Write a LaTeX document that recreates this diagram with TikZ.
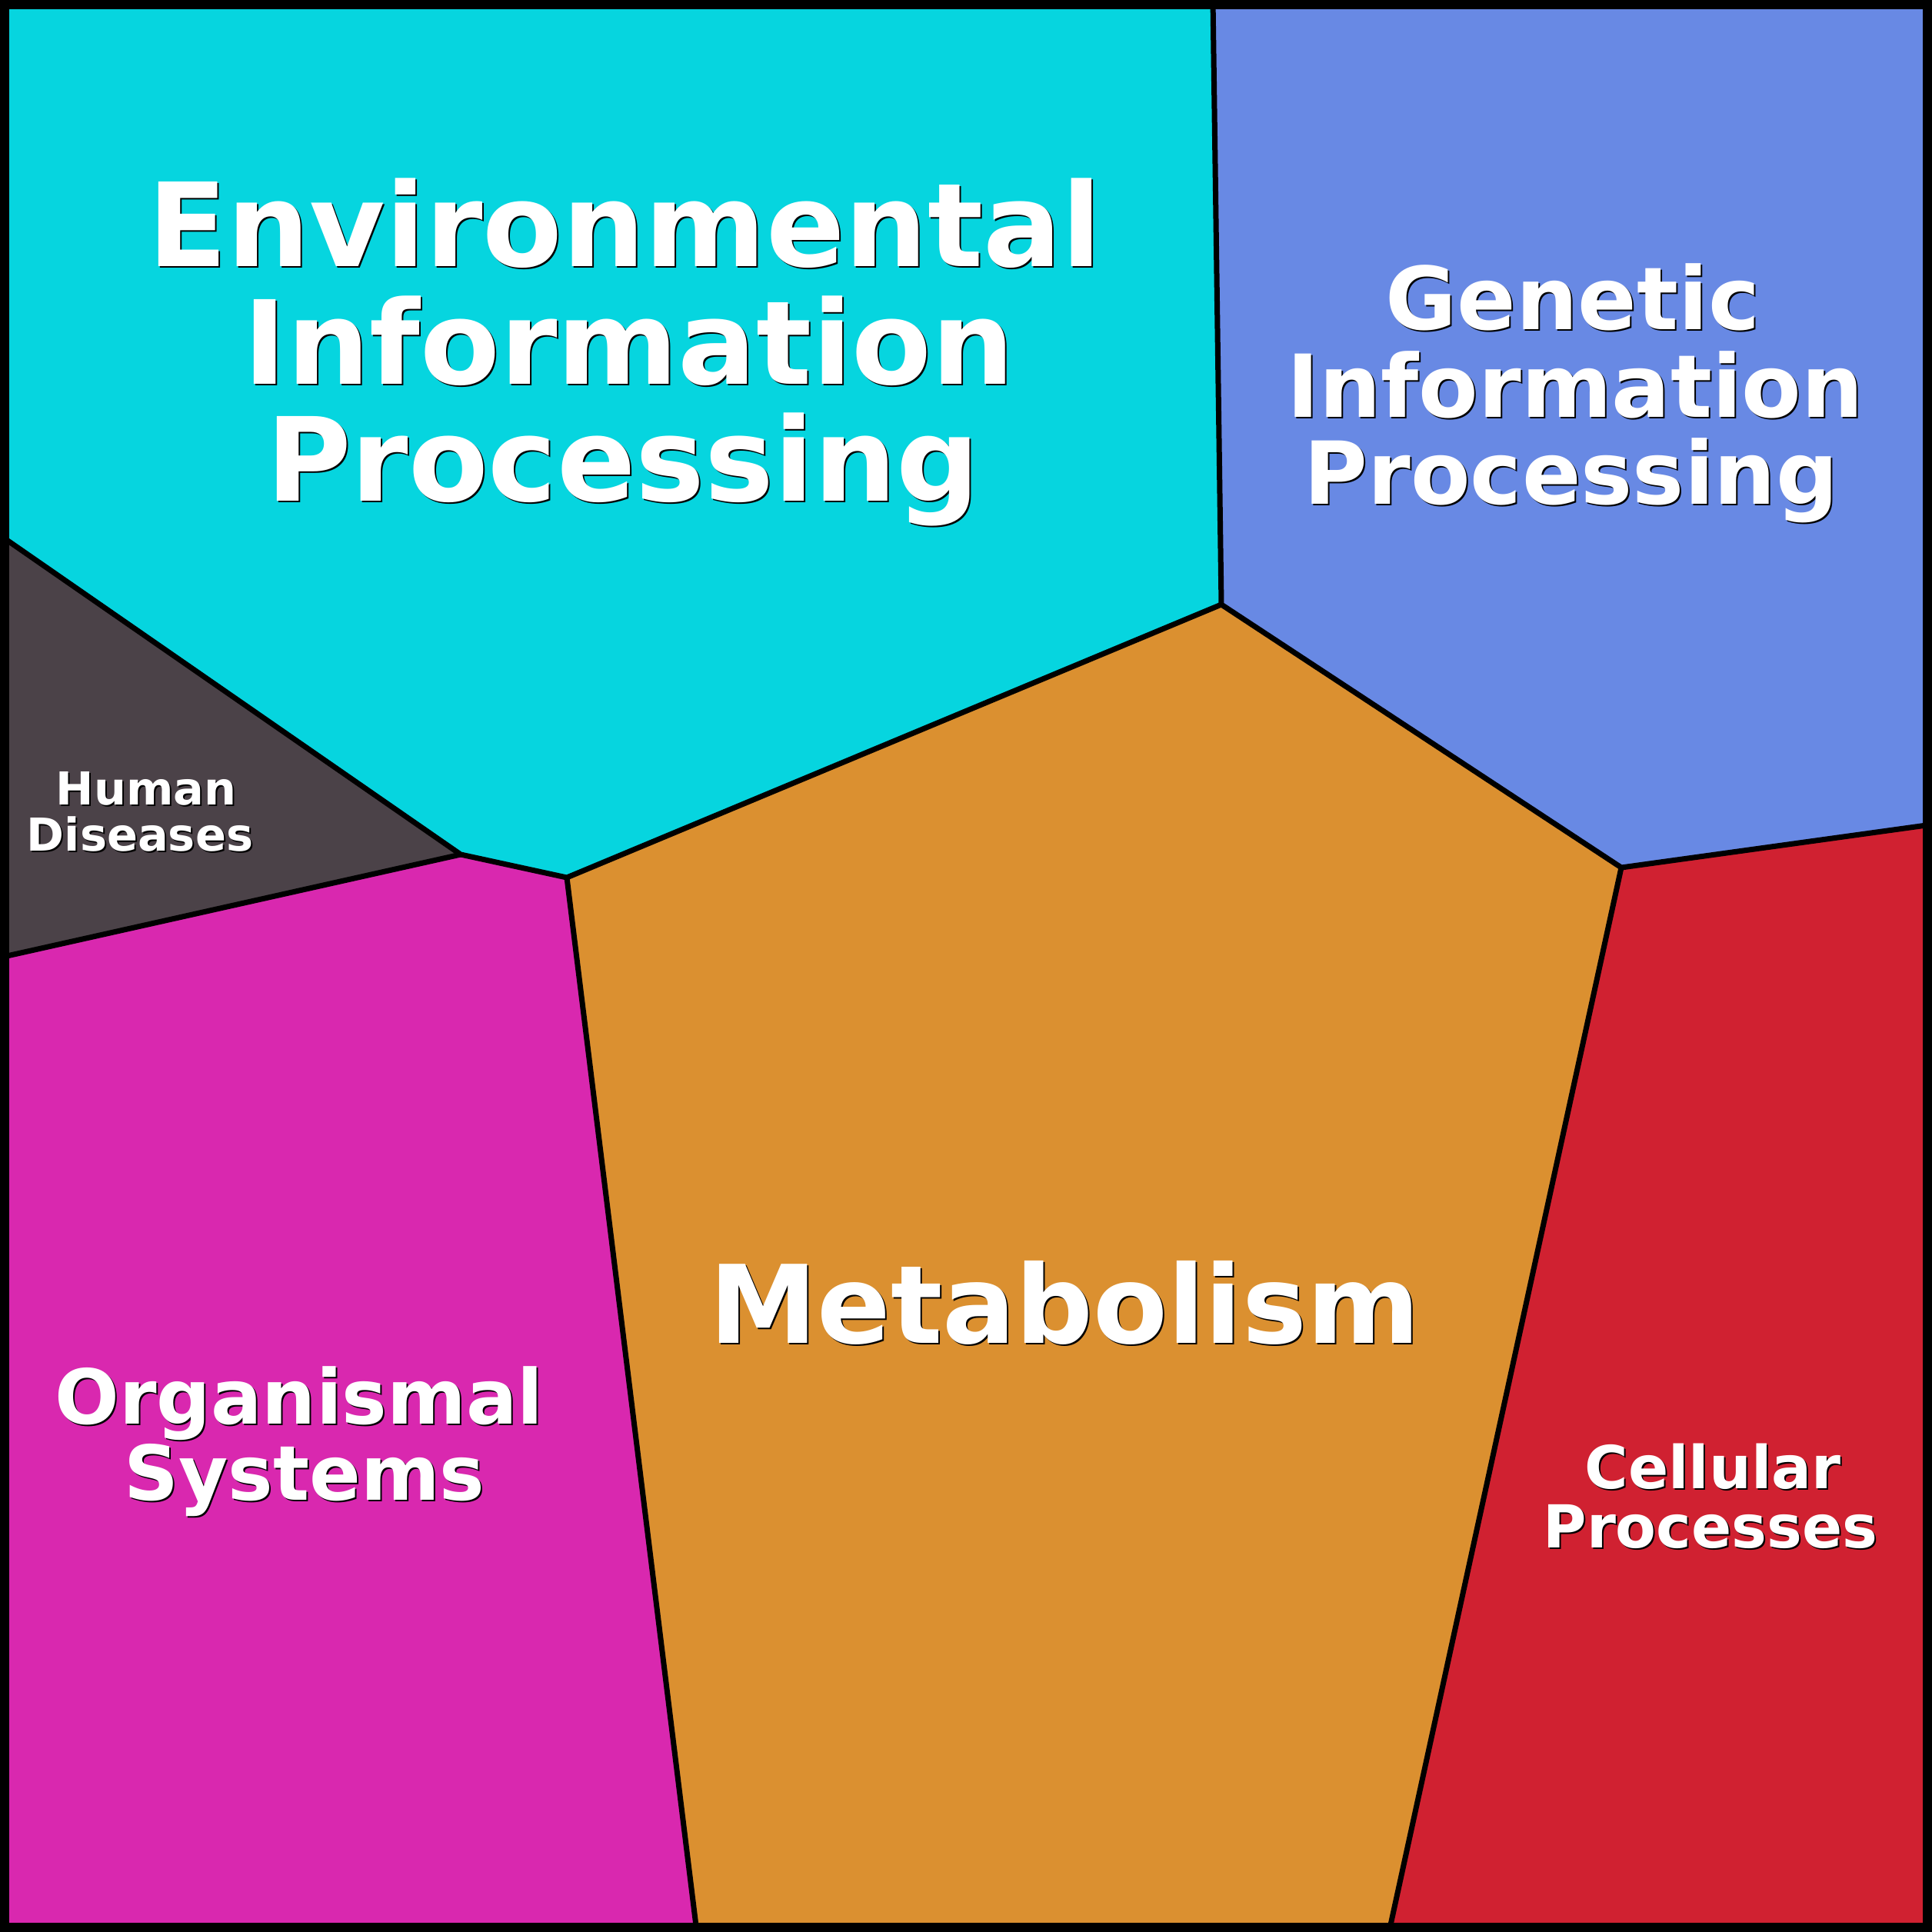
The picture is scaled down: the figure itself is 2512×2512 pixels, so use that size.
\documentclass[tikz,border=0pt]{standalone}
\usepackage{fontspec}
\setmainfont{DejaVu Sans}
\definecolor{envc}{HTML}{06D5DF}
\definecolor{genc}{HTML}{6889E4}
\definecolor{metc}{HTML}{DB9030}
\definecolor{celc}{HTML}{D02131}
\definecolor{orgc}{HTML}{D928AF}
\definecolor{humc}{HTML}{4B4248}
\tikzset{
  region/.style={draw=black, line width=7bp, line join=round},
  txtshadow/.style={anchor=base, inner sep=0pt, text=black},
  txtmain/.style={anchor=base, inner sep=0pt, text=white},
}
\newcommand\shlabel[5]{%
  \node[txtshadow, font=\fontsize{#4bp}{#4bp}\selectfont\bfseries] (#1s) at (#2+2,#3+2) {#5};
  \node[txtmain, font=\fontsize{#4bp}{#4bp}\selectfont\bfseries] (#1) at (#2,#3) {#5};
}
\begin{document}
\begin{tikzpicture}[x=1bp,y=-1bp]
\useasboundingbox (0,0) rectangle (2512,2512);
\coordinate (T) at (1577,0);
\coordinate (A) at (1588,786);
\coordinate (B) at (2108,1128);
\coordinate (R) at (2512,1072);
\coordinate (C) at (1806,2512);
\coordinate (D) at (906,2512);
\coordinate (E) at (737,1141);
\coordinate (H) at (599,1111);
\coordinate (L1) at (0,696);
\coordinate (L2) at (0,1245);
\fill[envc] (0,0) -- (T) -- (A) -- (E) -- (H) -- (L1) -- cycle;
\fill[genc] (T) -- (2512,0) -- (R) -- (B) -- (A) -- cycle;
\fill[metc] (A) -- (B) -- (C) -- (D) -- (E) -- cycle;
\fill[celc] (B) -- (R) -- (2512,2512) -- (C) -- cycle;
\fill[orgc] (E) -- (D) -- (0,2512) -- (L2) -- (H) -- cycle;
\fill[humc] (L1) -- (H) -- (L2) -- cycle;
\draw[region] (T) -- (A) -- (B) -- (R);
\draw[region] (A) -- (E) -- (H) -- (L1);
\draw[region] (B) -- (C);
\draw[region] (E) -- (D);
\draw[region] (H) -- (L2);
\draw[line width=12bp] (6,6) rectangle (2506,2506);
% labels
\shlabel{env1}{812}{346}{151}{Environmental}
\shlabel{env2}{818}{499}{151}{Information}
\shlabel{env3}{810}{651}{151}{Processing}
\shlabel{gen1}{2045}{428}{113}{Genetic}
\shlabel{gen2}{2048}{542}{113}{Information}
\shlabel{gen3}{2043}{655}{113}{Processing}
\shlabel{met}{1384}{1746}{141}{Metabolism}
\shlabel{org1}{389}{1851}{98.5}{Organismal}
\shlabel{org2}{396}{1950}{98.5}{Systems}
\shlabel{cel1}{2227}{1935}{77}{Cellular}
\shlabel{cel2}{2224}{2012}{77}{Processes}
\shlabel{hum1}{190}{1046}{59}{Human}
\shlabel{hum2}{182}{1106}{59}{Diseases}
\end{tikzpicture}
\end{document}
